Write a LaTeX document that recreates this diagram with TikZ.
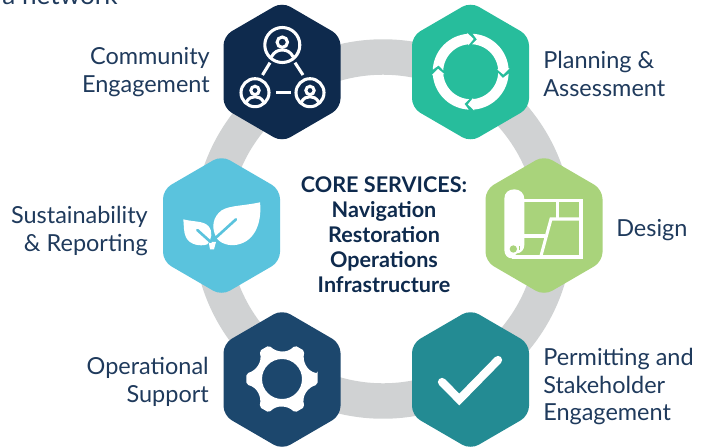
\documentclass[tikz,border=0pt]{standalone}
\usepackage{fontspec}
\setmainfont{Lato}
\definecolor{inkblue}{HTML}{1F3A5C}
\definecolor{ringgrey}{HTML}{D0D2D3}
\definecolor{hexnavy}{HTML}{0E2A4D}
\definecolor{hexgreen}{HTML}{27BD9C}
\definecolor{hexlime}{HTML}{A9D37B}
\definecolor{hexsky}{HTML}{5AC3DD}
\definecolor{hexblue}{HTML}{1C476D}
\definecolor{hexteal}{HTML}{238B93}
\tikzset{
  lbl/.style={text=inkblue,font=\fontsize{17.6}{20.6}\selectfont,inner sep=0pt},
  lblL/.style={lbl,anchor=west,align=left},
  lblR/.style={lbl,anchor=east,align=right},
  core/.style={text=hexnavy,font=\fontsize{16.2}{18.8}\selectfont\bfseries,align=center,inner sep=0pt},
  hexa/.style={fill=#1,rounded corners=7pt},
  iconline/.style={draw=white,line width=2.3pt,line cap=butt},
}
\newcommand{\hexat}[3]{\path[hexa=#3] (#1,#2-70) -- (#1+58.5,#2-36) -- (#1+58.5,#2+36) -- (#1,#2+70) -- (#1-58.5,#2+36) -- (#1-58.5,#2-36) -- cycle;}
\newcommand{\personicon}[3]{\begin{scope}[shift={(#1,#2)},scale=#3]
  \draw[iconline] (0,0) circle (17.5);
  \draw[iconline] (0,-2.8) circle (5.2);
  \draw[iconline] (-11,12) .. controls (-8,6.5) and (-4,5) .. (0,5) .. controls (4,5) and (8,6.5) .. (11,12);
\end{scope}}
\begin{document}
\begin{tikzpicture}[x=0.75pt,y=-0.75pt]
\useasboundingbox (0,0) rectangle (712,446);
\begin{scope}
\clip (0,0) rectangle (712,446);
\node[lbl,anchor=base east,font=\fontsize{19.6}{22}\selectfont] (clipped) at (118,4) {a network};
\end{scope}
\coordinate (ringc) at (383,229);
\draw[ringgrey,line width=26.6pt] (ringc) circle (172);
% hexagons
\hexat{282}{72}{hexnavy}
\hexat{470.5}{72}{hexgreen}
\hexat{544}{225.5}{hexlime}
\hexat{221.5}{225.5}{hexsky}
\hexat{282}{379.5}{hexblue}
\hexat{470.5}{379.5}{hexteal}
% community icon
\personicon{282.3}{45}{1}
\personicon{255}{92.7}{0.8}
\personicon{310}{92.7}{0.8}
\draw[iconline] (262.5,75) -- (270,62.7);
\draw[iconline] (303,75) -- (295,62.7);
\draw[iconline] (276,92.7) -- (290.5,92.7);
% planning icon
\foreach \r in {0,90,180,270}{
  \pgfmathsetmacro{\ta}{\r-87}
  \pgfmathsetmacro{\tb}{\r-79}
  \pgfmathsetmacro{\hb}{\r-5}
  \pgfmathsetmacro{\hc}{\r+5}
  \begin{scope}[shift={(470.7,71.7)}]
  \fill[white] plot[domain=\ta:\hb,samples=18] (\x:38) -- (\hb:39) -- (\hc:32.8) -- (\hb:26.5) -- plot[domain=\hb:\ta,samples=18] (\x:27.5) -- (\tb:32.8) -- cycle;
  \end{scope}
}
% design icon
\begin{scope}[shift={(470,150)},scale=0.3333]
  \fill[white] (103,300) -- (103,146) .. controls (103,128) and (116,118) .. (133,118) .. controls (150,118) and (163,130) .. (163,147) -- (163,285) .. controls (163,300) and (152,310) .. (140,310) -- (125,325) .. controls (112,325) and (103,314) .. cycle;
  \fill[hexlime] (130,297) circle (11);
  \fill[hexlime] (148,288) rectangle (151,300);
  \draw[iconline,line join=miter] (125,321) -- (333,321) -- (333,151) -- (160,151);
  \draw[iconline] (262,151) -- (262,207);
  \draw[iconline] (333,207) -- (243,207) -- (212,321);
  \draw[iconline] (160,258) -- (226,258);
\end{scope}
% leaf icon
\begin{scope}[shift={(150,150)},scale=0.3333]
  \fill[white] (330,157) .. controls (270,170) and (225,165) .. (205,190) .. controls (185,212) and (188,240) .. (197,258) .. controls (205,280) and (240,292) .. (270,282) .. controls (325,265) and (335,200) .. (330,157) -- cycle;
  \fill[white] (100,208) .. controls (130,216) and (160,212) .. (175,228) .. controls (190,245) and (185,268) .. (172,283) .. controls (150,290) and (120,285) .. (108,262) .. controls (100,245) and (102,225) .. (100,208) -- cycle;
  \fill[white] (176,276) -- (198,276) -- (192,298) -- (180,298) -- cycle;
  \draw[hexsky,line width=2pt,line cap=round] (258,208) -- (192,268);
  \draw[hexsky,line width=2pt,line cap=round] (142,240) -- (182,276);
\end{scope}
% gear icon
\begin{scope}[shift={(282,379)}]
  \fill[white,even odd rule,rounded corners=1.5pt] (-9:36)
    \foreach \a in {0,60,...,300}{
      -- (\a+9:36) .. controls (\a+18:27) and (\a+42:26) .. (\a+51:36)
    } -- cycle
    (0,0) circle (20);
\end{scope}
% check icon
\draw[white,line width=6.2pt,line cap=round,line join=miter] (442,382) -- (459.3,399.5) -- (498,360);
% labels
\node[lblR] (community) at (210,72) {Community\\Engagement};
\node[lblL] (planning) at (543,74) {Planning \&\\Assessment};
\node[lblL] (design) at (616,230) {Design};
\node[lblR] (sustain) at (148,231) {Sustainability\\\& Reporting};
\node[lblR] (operational) at (209,382) {Operational\\Support};
\node[lblL] (permitting) at (543,386.5) {Permitting and\\Stakeholder\\Engagement};
\node[core] (services) at (384,235) {CORE SERVICES:\\Navigation\\Restoration\\Operations\\Infrastructure};
\end{tikzpicture}
\end{document}
